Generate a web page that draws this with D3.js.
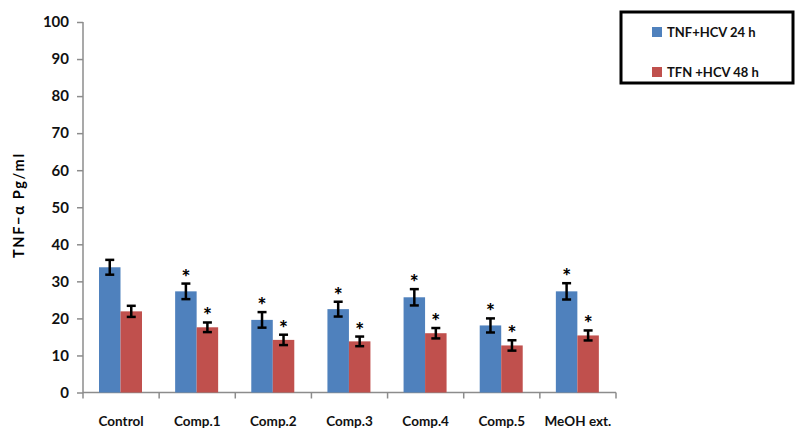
<!DOCTYPE html>
<html>
<head>
<meta charset="utf-8">
<script src="https://cdn.jsdelivr.net/npm/d3@7"></script>
<style>
  body { margin: 0; background: #fff; }
  text { font-family: Lato, "Liberation Sans", sans-serif; }
</style>
</head>
<body>
<div id="chart"></div>
<script>
// dane
var kategorie = ["Control", "Comp.1", "Comp.2", "Comp.3", "Comp.4", "Comp.5", "MeOH ext."];
var serie = ["TNF+HCV 24 h", "TFN +HCV 48 h"];
var wartosci24 = [33.8, 27.3, 19.6, 22.5, 25.7, 18.1, 27.3];
var bledy24 = [2.0, 2.1, 2.1, 2.0, 2.2, 1.9, 2.2];
var wartosci48 = [21.9, 17.6, 14.2, 13.8, 16.0, 12.7, 15.4];
var bledy48 = [1.5, 1.3, 1.4, 1.3, 1.4, 1.4, 1.35];
var gwiazdki24 = [false, true, true, true, true, true, true];
var gwiazdki48 = [false, true, true, true, true, true, true];
var yTicks = [0, 10, 20, 30, 40, 50, 60, 70, 80, 90, 100];
var kolory = ["#4f81bd", "#c0504d"];

var stworzWykres = function(){

  var W = 795, H = 432;
  var margin = {top: 22, right: 179, bottom: 40, left: 83};
  var width = 616 - margin.left,
      height = 392.5 - margin.top;

  var svg = d3.select("#chart")
    .append("svg")
    .attr("width", W)
    .attr("height", H);

  var g = svg.append("g")
    .attr("transform", "translate(" + margin.left + "," + margin.top + ")");

  // skale
  var x = d3.scaleBand().domain(kategorie).range([0, width]).paddingInner(0).paddingOuter(0);
  var xs = d3.scaleBand().domain(serie).range([16, 59]);
  var y = d3.scaleLinear().domain([0, 100]).range([height, 0]);

  // os y
  var osY = g.append("g")
    .call(d3.axisLeft(y).tickValues(yTicks).tickSize(6).tickPadding(8));
  osY.select(".domain").attr("stroke", "#8c8c8c").attr("stroke-width", 1.5)
    .attr("d", "M0," + (height + 6) + "V0");
  osY.selectAll(".tick line").attr("stroke", "#8c8c8c").attr("stroke-width", 1.5);
  osY.selectAll(".tick text").style("font-size", "15px").style("font-weight", "bold").attr("fill", "#111");

  // os x
  var osX = g.append("g").attr("transform", "translate(0," + height + ")");
  osX.append("line").attr("x1", 0).attr("x2", width).attr("y1", 0).attr("y2", 0)
    .attr("stroke", "#8c8c8c").attr("stroke-width", 1.5);
  osX.selectAll(".podzial")
    .data(kategorie)
    .enter().append("line")
    .attr("x1", function(d){ return x(d) + x.bandwidth(); })
    .attr("x2", function(d){ return x(d) + x.bandwidth(); })
    .attr("y1", 0).attr("y2", 6)
    .attr("stroke", "#8c8c8c").attr("stroke-width", 1.5);
  osX.selectAll(".etykieta")
    .data(kategorie)
    .enter().append("text")
    .attr("x", function(d){ return x(d) + x.bandwidth() / 2; })
    .attr("y", 33)
    .attr("text-anchor", "middle")
    .style("font-size", "13.5px")
    .style("font-weight", "bold")
    .attr("fill", "#111")
    .text(function(d){ return d; });

  // dane do slupkow
  var dane = [];
  kategorie.forEach(function(k, i){
    dane.push({kat: k, seria: serie[0], v: wartosci24[i], e: bledy24[i], s: gwiazdki24[i], kolor: kolory[0]});
    dane.push({kat: k, seria: serie[1], v: wartosci48[i], e: bledy48[i], s: gwiazdki48[i], kolor: kolory[1]});
  });

  var bw = xs.bandwidth();

  g.selectAll(".slupek")
    .data(dane)
    .enter().append("rect")
    .attr("x", function(d){ return x(d.kat) + xs(d.seria); })
    .attr("y", function(d){ return y(d.v); })
    .attr("width", bw)
    .attr("height", function(d){ return height - y(d.v); })
    .attr("fill", function(d){ return d.kolor; });

  // slupki bledow
  var eb = g.selectAll(".blad")
    .data(dane)
    .enter().append("g")
    .attr("transform", function(d){ return "translate(" + (x(d.kat) + xs(d.seria) + bw / 2) + ",0)"; });
  eb.append("line")
    .attr("x1", 0).attr("x2", 0)
    .attr("y1", function(d){ return y(d.v + d.e); })
    .attr("y2", function(d){ return y(d.v - d.e); })
    .attr("stroke", "#000").attr("stroke-width", 2.5);
  eb.append("line")
    .attr("x1", -4.5).attr("x2", 4.5)
    .attr("y1", function(d){ return y(d.v + d.e); })
    .attr("y2", function(d){ return y(d.v + d.e); })
    .attr("stroke", "#000").attr("stroke-width", 2.5);
  eb.append("line")
    .attr("x1", -4.5).attr("x2", 4.5)
    .attr("y1", function(d){ return y(d.v - d.e); })
    .attr("y2", function(d){ return y(d.v - d.e); })
    .attr("stroke", "#000").attr("stroke-width", 2.5);

  // gwiazdki
  eb.filter(function(d){ return d.s; })
    .append("text")
    .attr("x", 0)
    .attr("y", function(d){ return y(d.v + d.e) + 1; })
    .attr("text-anchor", "middle")
    .style("font-size", "21px")
    .style("font-weight", "900")
    .attr("fill", "#000")
    .text("*");

  // tytul osi y
  svg.append("text")
    .attr("transform", "translate(23.5,206) rotate(-90)")
    .attr("text-anchor", "middle")
    .attr("textLength", 104)
    .attr("lengthAdjust", "spacing")
    .style("font-size", "14.5px")
    .style("font-weight", "bold")
    .attr("fill", "#000")
    .text("TNF−α Pg/ml");

  // legenda
  var leg = svg.append("g");
  leg.append("rect")
    .attr("x", 621).attr("y", 12)
    .attr("width", 172).attr("height", 71)
    .attr("fill", "#fff").attr("stroke", "#000").attr("stroke-width", 3);
  var wpis = leg.selectAll(".wpis")
    .data(serie)
    .enter().append("g")
    .attr("transform", function(d, i){ return "translate(652," + (27 + i * 40) + ")"; });
  wpis.append("rect")
    .attr("width", 10).attr("height", 10)
    .attr("fill", function(d, i){ return kolory[i]; });
  wpis.append("text")
    .attr("x", 15).attr("y", 10)
    .style("font-size", "13px")
    .style("font-weight", "bold")
    .attr("fill", "#111")
    .text(function(d){ return d; });
};

stworzWykres();
</script>
</body>
</html>
